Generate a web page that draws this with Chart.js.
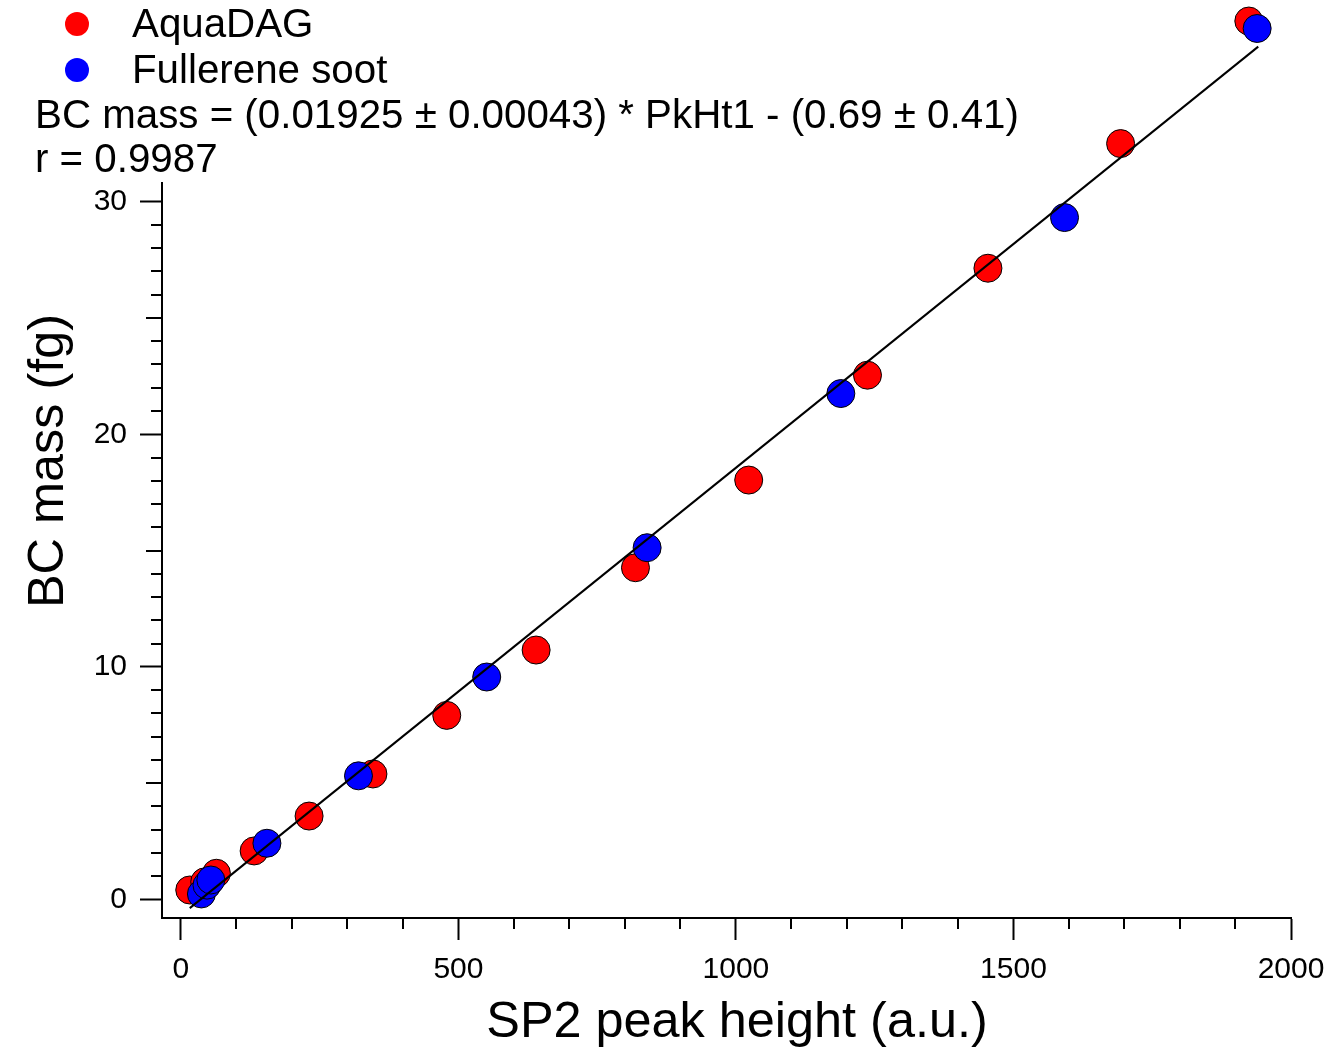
<!DOCTYPE html>
<html>
<head>
<meta charset="utf-8">
<title>SP2 calibration</title>
<script src="https://cdn.jsdelivr.net/npm/chart.js@4.4.0/dist/chart.umd.min.js"></script>
<style>
  html, body { margin: 0; padding: 0; background: #fff; }
  #wrap { width: 1331px; height: 1048px; }
</style>
</head>
<body>
<div id="wrap"><canvas id="bcChart" width="1331" height="1048"></canvas></div>
<script>
// AquaDAG calibration points (SP2 peak height, BC mass in fg)
const aquaX = [16, 43, 64, 132, 231, 346, 479, 640, 819, 1023, 1237, 1454, 1693, 1924];
const aquaY = [0.40, 0.75, 1.12, 2.08, 3.58, 5.39, 7.91, 10.72, 14.26, 18.03, 22.54, 27.14, 32.50, 37.77];

// Fullerene soot calibration points
const fullX = [37, 47, 54, 155, 320, 551, 840, 1189, 1592, 1939];
const fullY = [0.23, 0.61, 0.83, 2.41, 5.31, 9.56, 15.12, 21.75, 29.32, 37.45];

// fit line end points
const fitX = [16, 1941];
const fitY = [-0.38, 36.67];

const seriesNames = ['AquaDAG', 'Fullerene soot'];
const seriesColors = ['#ff0000', '#0000ff'];
const fitText = 'BC mass = (0.01925 \u00b1 0.00043) * PkHt1 - (0.69 \u00b1 0.41)';
const rText = 'r = 0.9987';
const xTitle = 'SP2 peak height (a.u.)';
const yTitle = 'BC mass (fg)';

const xTicks = [0, 500, 1000, 1500, 2000];
const yTicks = [0, 10, 20, 30];

// the drawn y axis stops here, the points above it still show
const Y_AXIS_MIN = -0.804;
const Y_AXIS_MAX = 30.847;

const FONT = '"Liberation Sans", Arial, Helvetica, sans-serif';

function toPoints(xs, ys) {
    return xs.map((x, i) => ({ x: x, y: ys[i] }));
}

// y axis line, minor ticks (every 100 on x, every 1 on y, half-way ticks a bit longer)
const axisExtras = {
    id: 'axisExtras',
    afterDraw(chart) {
        const { ctx, scales: { x, y } } = chart;
        ctx.save();
        ctx.strokeStyle = '#000';
        ctx.lineWidth = 2;
        ctx.beginPath();
        const left = chart.chartArea.left;
        ctx.moveTo(left, y.getPixelForValue(Y_AXIS_MIN) + 1);
        ctx.lineTo(left, y.getPixelForValue(Y_AXIS_MAX));
        for (let v = 100; v < 2000; v += 100) {
            if (v % 500 === 0) continue;
            const px = Math.round(x.getPixelForValue(v));
            ctx.moveTo(px, x.top);
            ctx.lineTo(px, x.top + 11);
        }
        for (let v = 1; v < 30; v++) {
            if (v % 10 === 0) continue;
            const py = Math.round(y.getPixelForValue(v));
            const len = v % 5 === 0 ? 16 : 11;
            ctx.moveTo(y.right, py);
            ctx.lineTo(y.right - len, py);
        }
        ctx.stroke();
        ctx.restore();
    }
};

// legend, fit text and axis titles
const annotations = {
    id: 'annotations',
    afterDraw(chart) {
        const ctx = chart.ctx;
        ctx.save();
        ctx.font = '40.3px ' + FONT;
        ctx.textBaseline = 'alphabetic';
        ctx.textAlign = 'left';
        seriesNames.forEach((name, i) => {
            ctx.beginPath();
            ctx.arc(77, 24 + i * 46, 12, 0, Math.PI * 2);
            ctx.fillStyle = seriesColors[i];
            ctx.fill();
            ctx.fillStyle = '#000';
            ctx.fillText(name, 132, 37 + i * 46);
        });
        ctx.fillText(fitText, 35, 128);
        ctx.fillText(rText, 35, 172);

        ctx.font = '50.4px ' + FONT;
        ctx.textAlign = 'center';
        ctx.fillText(xTitle, 737, 1037);
        ctx.translate(63, 461);
        ctx.rotate(-Math.PI / 2);
        ctx.fillText(yTitle, 0, 0);
        ctx.restore();
    }
};

document.addEventListener('DOMContentLoaded', function() {
    const ctx = document.getElementById('bcChart').getContext('2d');

    new Chart(ctx, {
        type: 'scatter',
        data: {
            datasets: [
                {
                    type: 'line',
                    label: 'fit',
                    data: toPoints(fitX, fitY),
                    borderColor: '#000',
                    borderWidth: 2,
                    pointRadius: 0,
                    fill: false,
                    clip: false,
                    order: 0
                },
                {
                    label: seriesNames[1],
                    data: toPoints(fullX, fullY),
                    backgroundColor: seriesColors[1],
                    borderColor: '#000',
                    borderWidth: 1,
                    pointRadius: 14,
                    clip: false,
                    order: 1
                },
                {
                    label: seriesNames[0],
                    data: toPoints(aquaX, aquaY),
                    backgroundColor: seriesColors[0],
                    borderColor: '#000',
                    borderWidth: 1,
                    pointRadius: 14,
                    clip: false,
                    order: 2
                }
            ]
        },
        options: {
            responsive: false,
            animation: false,
            layout: {
                padding: { left: 0, right: 40, top: 20, bottom: 0 }
            },
            plugins: {
                legend: { display: false },
                tooltip: { enabled: false }
            },
            scales: {
                x: {
                    type: 'linear',
                    position: 'bottom',
                    min: -34,
                    max: 2000,
                    afterBuildTicks: function(scale) {
                        scale.ticks = xTicks.map(v => ({ value: v }));
                    },
                    afterFit: function(scale) {
                        scale.height = 130;
                        scale.paddingLeft = 0;
                        scale.paddingRight = 0;
                    },
                    border: { display: true, color: '#000', width: 2 },
                    grid: {
                        display: true,
                        drawOnChartArea: false,
                        drawTicks: true,
                        tickLength: 22,
                        tickWidth: 2,
                        tickColor: '#000'
                    },
                    ticks: {
                        color: '#000',
                        font: { family: FONT, size: 30 },
                        padding: 12,
                        maxRotation: 0,
                        autoSkip: false,
                        callback: v => String(v)
                    },
                    title: { display: false }
                },
                y: {
                    type: 'linear',
                    position: 'left',
                    min: Y_AXIS_MIN,
                    // room above the axis for the top points
                    max: 37.815,
                    afterBuildTicks: function(scale) {
                        scale.ticks = yTicks.map(v => ({ value: v }));
                    },
                    afterFit: function(scale) {
                        scale.width = 162;
                        scale.paddingTop = 0;
                        scale.paddingBottom = 0;
                    },
                    border: { display: false },
                    grid: {
                        display: true,
                        drawOnChartArea: false,
                        drawTicks: true,
                        tickLength: 22,
                        tickWidth: 2,
                        tickColor: '#000'
                    },
                    ticks: {
                        color: '#000',
                        font: { family: FONT, size: 30 },
                        padding: 13,
                        autoSkip: false,
                        callback: v => String(v)
                    },
                    title: { display: false }
                }
            }
        },
        plugins: [axisExtras, annotations]
    });
});
</script>
</body>
</html>
